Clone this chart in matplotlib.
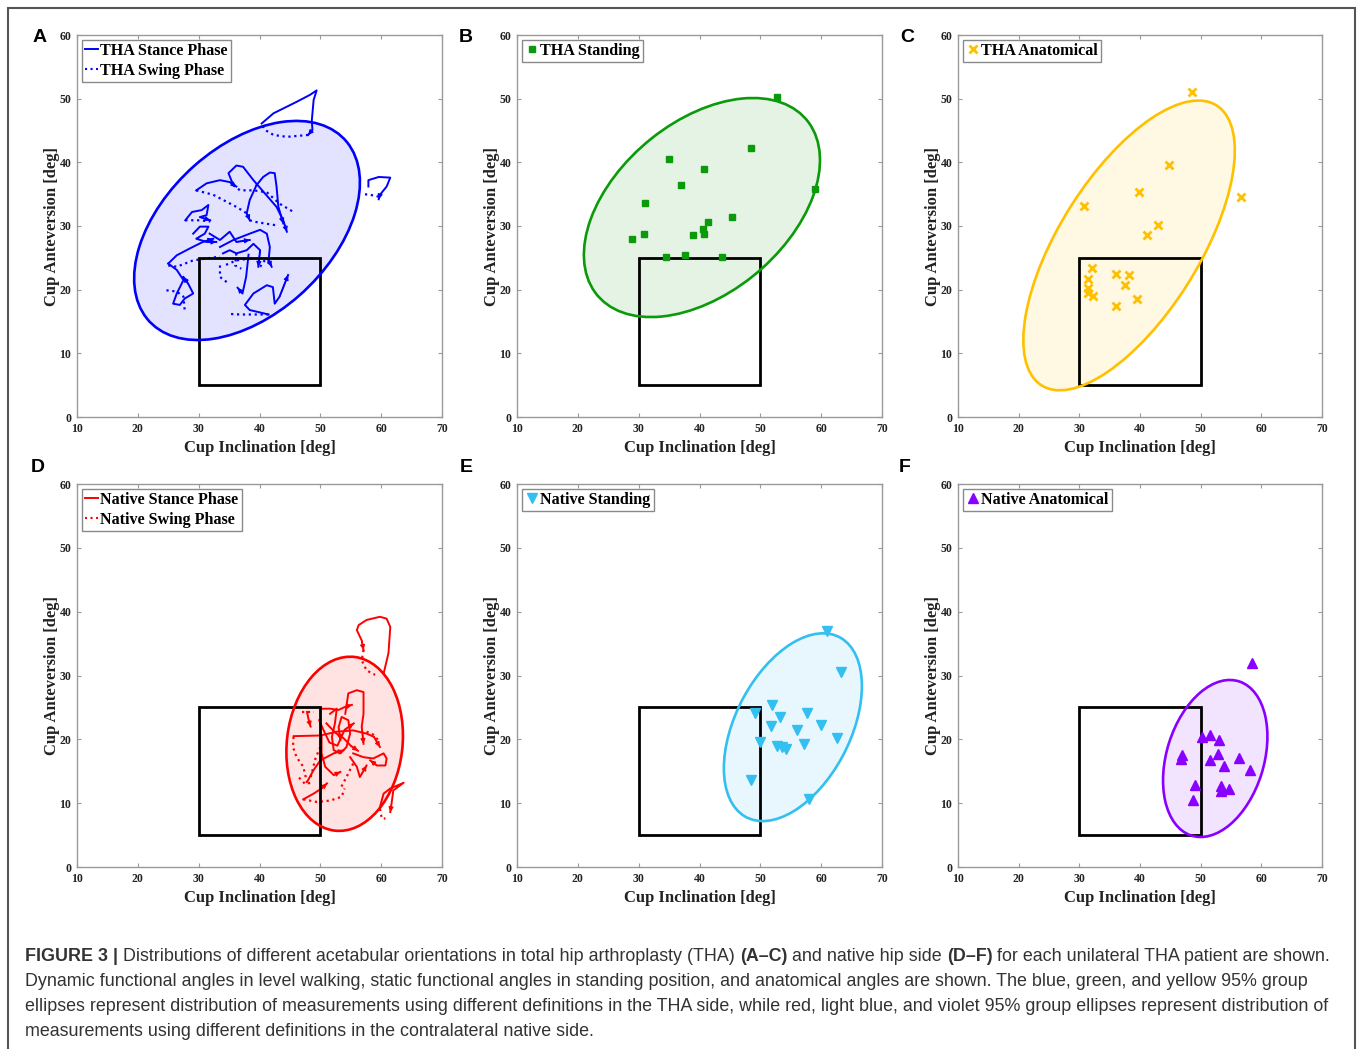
import numpy as np
import matplotlib.pyplot as plt
from matplotlib.patches import Ellipse, Rectangle
from matplotlib.lines import Line2D

# --- Données --------------------------------------------------------
x_ticks = [10, 20, 30, 40, 50, 60, 70]
y_ticks = [0, 10, 20, 30, 40, 50, 60]
safe_incl = [30, 50]   # zone de Lewinnek, inclinaison
safe_ante = [5, 25]    # zone de Lewinnek, antéversion

# ellipses 95% : centre x, centre y, largeur, hauteur, angle
ell_A = [37.95, 29.3, 43.0, 26.7, 40.1]
ell_B = [40.4, 32.9, 44.1, 27.3, 37.2]
ell_C = [38.2, 26.95, 52.6, 22.8, 56.2]
ell_D = [54.0, 19.3, 27.4, 19.0, 82.7]
ell_E = [55.35, 21.9, 32.1, 18.7, 60.5]
ell_F = [52.4, 17.0, 25.4, 16.0, 71.3]

# A : THA, marche (phase d'appui = trait plein, phase oscillante = pointillé)
tha_stance = [
    [(40.35, 46.1), (42.3, 47.7), (46.1, 49.5), (48.3, 50.6), (49.4, 51.3), (48.9, 49.8), (48.6, 46.6), (48.7, 45.1), (48.0, 44.3)],
    [(57.9, 36.2), (57.9, 37.2), (59.6, 37.7), (61.5, 37.6), (60.9, 36.2), (59.8, 34.9), (59.6, 34.2)],
    [(35.7, 36.4), (34.9, 38.3), (36.2, 39.5), (37.3, 39.3), (39.0, 37.2), (40.9, 35.1), (42.8, 33.0), (43.9, 30.9), (44.5, 29.1)],
    [(39.5, 36.4), (40.6, 37.7), (41.7, 38.4), (42.5, 38.3), (42.8, 36.2), (43.1, 33.0), (43.9, 30.4)],
    [(39.5, 36.4), (38.4, 34.1), (37.9, 32.0), (38.4, 30.9)],
    [(29.6, 35.6), (31.3, 36.7), (33.5, 37.2), (35.1, 36.9), (36.2, 36.2)],
    [(27.8, 30.9), (28.9, 32.2), (30.5, 32.5), (31.6, 33.3), (31.3, 31.7), (30.2, 31.4), (31.9, 30.9)],
    [(29.1, 28.8), (30.2, 29.9), (31.6, 29.9), (31.0, 28.8), (29.6, 28.0), (31.3, 27.5), (32.9, 27.5)],
    [(25.0, 24.1), (26.4, 25.4), (28.6, 26.5), (30.7, 27.5), (32.4, 28.0)],
    [(25.0, 24.1), (26.4, 23.1), (27.5, 21.5), (26.4, 19.4), (25.8, 17.8), (26.9, 17.6), (27.7, 18.6), (29.1, 19.4), (28.3, 20.9), (27.5, 22.0)],
    [(41.5, 16.1), (38.4, 16.8), (37.6, 17.6), (39.0, 19.4), (41.2, 20.7), (42.2, 20.4), (42.5, 17.8), (43.3, 18.9), (44.7, 22.3)],
    [(33.5, 26.7), (35.7, 27.8), (38.4, 28.8), (40.1, 29.4), (41.2, 28.8), (41.7, 26.7), (41.5, 24.6), (42.0, 23.6)],
    [(34.0, 25.7), (35.1, 26.2), (36.2, 25.7), (37.9, 26.2), (39.0, 27.2), (40.1, 26.2), (39.8, 23.6)],
    [(31.8, 28.8), (33.5, 27.8), (35.1, 29.1), (36.2, 27.5), (38.4, 27.8)],
    [(38.2, 25.5), (37.8, 22.0), (37.2, 19.4), (36.4, 20.3)],
]
tha_swing = [
    [(48.0, 44.3), (44.5, 44.0), (42.3, 44.3), (40.9, 45.1), (40.35, 46.0)],
    [(59.6, 34.6), (58.2, 34.9), (57.1, 35.0)],
    [(35.7, 36.4), (36.8, 35.6), (39.0, 35.6), (41.2, 35.3), (43.3, 33.5), (45.6, 32.2)],
    [(38.4, 30.9), (39.0, 30.7), (41.5, 30.3), (42.8, 30.1)],
    [(29.6, 35.6), (32.4, 34.9), (34.0, 34.1), (36.2, 33.0), (37.9, 32.0)],
    [(27.8, 30.9), (30.2, 30.9), (31.9, 30.7)],
    [(25.0, 23.8), (26.4, 23.6), (29.1, 24.6), (31.3, 24.9), (33.5, 25.2)],
    [(24.7, 19.9), (26.4, 19.7), (27.5, 18.9), (27.7, 16.8)],
    [(41.5, 16.1), (39.0, 16.1), (36.8, 16.1), (34.9, 16.2)],
    [(33.5, 23.8), (33.5, 22.0), (34.6, 21.2)],
    [(40.1, 23.6), (41.0, 24.8), (42.0, 24.2)],
    [(36.2, 25.7), (36.0, 23.8), (37.0, 23.3)],
    [(34.5, 23.9), (36.2, 24.6), (38.5, 24.9)],
]

# D : côté natif, marche
nat_stance = [
    [(60.4, 30.3), (61.2, 33.5), (61.5, 37.6), (60.9, 38.9), (59.8, 39.2), (57.6, 38.7), (56.3, 37.9), (56.0, 37.1), (56.8, 35.5), (57.1, 34.0)],
    [(59.8, 9.4), (60.4, 11.5), (61.5, 12.3), (63.7, 13.2), (62.0, 12.0), (61.7, 9.9), (61.5, 8.6)],
    [(45.6, 20.5), (50.0, 20.6), (52.7, 21.2), (55.4, 21.4), (57.6, 20.9), (58.8, 20.4), (59.8, 18.8)],
    [(47.8, 24.3), (48.1, 23.0), (48.4, 22.0)],
    [(47.8, 13.3), (48.9, 15.2), (50.0, 16.7), (52.2, 17.8), (53.8, 18.3)],
    [(47.2, 10.6), (48.9, 11.5), (50.2, 12.3), (51.1, 13.1)],
    [(54.1, 24.0), (54.6, 27.2), (56.0, 27.7), (57.1, 27.4), (57.1, 24.0), (56.8, 22.0), (57.1, 19.3)],
    [(51.6, 24.0), (52.7, 24.8), (52.4, 22.5), (51.9, 20.4), (52.2, 18.3), (53.3, 17.8), (54.3, 18.8), (54.9, 20.9), (54.6, 23.0), (53.5, 23.5), (53.0, 21.9), (53.3, 19.9)],
    [(50.0, 24.8), (51.6, 24.8), (53.0, 24.6), (54.1, 25.1), (55.2, 25.4)],
    [(50.2, 20.4), (50.2, 17.8), (50.8, 15.7), (52.2, 14.4), (53.3, 14.9)],
    [(55.4, 17.8), (57.1, 17.2), (58.7, 17.0), (60.4, 17.8), (60.9, 17.0), (60.7, 15.9), (59.3, 15.9), (58.2, 16.7)],
    [(54.9, 17.2), (56.0, 15.7), (56.5, 14.1), (57.6, 15.9)],
    [(51.0, 22.5), (52.5, 21.0), (53.8, 20.2), (55.0, 19.0), (56.2, 18.2)],
    [(49.8, 23.0), (50.5, 21.5), (51.5, 19.5), (52.8, 19.0), (54.0, 21.5), (55.5, 22.5)],
]
nat_swing = [
    [(57.1, 34.0), (56.8, 32.4), (57.6, 30.8), (59.0, 30.1)],
    [(59.8, 9.1), (60.1, 7.6), (60.7, 7.6)],
    [(45.6, 20.4), (45.5, 18.8), (46.1, 17.2), (47.2, 15.7), (47.8, 13.3)],
    [(47.0, 24.3), (49.0, 24.3)],
    [(47.2, 10.6), (49.4, 10.2), (51.6, 10.4), (53.5, 11.0), (54.0, 12.3)],
    [(57.6, 21.2), (58.6, 20.8), (59.5, 19.9)],
    [(55.4, 16.2), (54.3, 14.1), (53.3, 12.3)],
    [(50.0, 18.8), (49.2, 17.0), (48.3, 13.6)],
    [(46.5, 14.0), (47.5, 13.0), (48.5, 13.2)],
]

# B : THA debout
tha_stand_x = [28.9, 30.9, 31.0, 35.0, 37.0, 40.8, 48.4, 52.7, 59.0, 45.3, 41.4, 40.6, 40.7, 39.0, 34.5, 37.6, 43.75]
tha_stand_y = [27.9, 28.7, 33.6, 40.5, 36.5, 39.0, 42.2, 50.3, 35.8, 31.4, 30.6, 29.6, 28.8, 28.6, 25.1, 25.4, 25.1]
# C : THA anatomique
tha_anat_x = [48.5, 44.8, 39.8, 30.7, 42.9, 41.2, 56.7, 32.05, 31.5, 31.4, 31.5, 32.2, 36.1, 38.2, 37.5, 39.5, 36.1]
tha_anat_y = [51.1, 39.6, 35.4, 33.2, 30.2, 28.6, 34.6, 23.4, 21.6, 20.3, 19.4, 19.0, 22.5, 22.3, 20.8, 18.6, 17.5]
# E : natif debout
nat_stand_x = [61.0, 63.2, 51.9, 49.1, 57.6, 53.3, 51.75, 59.9, 56.0, 62.6, 49.9, 57.2, 52.8, 53.6, 54.3, 48.4, 58.0]
nat_stand_y = [37.0, 30.5, 25.4, 24.2, 24.2, 23.5, 22.1, 22.3, 21.4, 20.2, 19.6, 19.3, 18.9, 18.8, 18.5, 13.6, 10.6]
# F : natif anatomique
nat_anat_x = [58.4, 51.6, 50.15, 53.1, 46.9, 46.7, 52.9, 51.6, 56.3, 53.8, 58.1, 49.0, 53.3, 54.7, 53.3, 48.8]
nat_anat_y = [32.0, 20.75, 20.3, 19.9, 17.5, 16.9, 17.7, 16.7, 17.1, 15.8, 15.2, 12.9, 12.65, 12.2, 11.9, 10.45]

caption_l1 = [("FIGURE 3 |", True),
              ("Distributions of different acetabular orientations in total hip arthroplasty (THA)", False),
              ("(A–C)", True), ("and native hip side", False), ("(D–F)", True),
              ("for each unilateral THA patient are shown.", False)]
caption_rest = [
    "Dynamic functional angles in level walking, static functional angles in standing position, and anatomical angles are shown. The blue, green, and yellow 95% group",
    "ellipses represent distribution of measurements using different definitions in the THA side, while red, light blue, and violet 95% group ellipses represent distribution of",
    "measurements using different definitions in the contralateral native side.",
]

# --- Mise en page ----------------------------------------------------
W, H = 1358, 1049
SERIF = ['Liberation Serif', 'DejaVu Serif']
fig = plt.figure(figsize=(W / 100, H / 100), dpi=100)


def axes_px(left, top, right, bottom):
    return fig.add_axes([left / W, 1 - bottom / H, (right - left) / W, (bottom - top) / H])


def setup(ax):
    ax.set_xlim(10, 70)
    ax.set_ylim(0, 60)
    ax.set_xticks(x_ticks)
    ax.set_yticks(y_ticks)
    for s in ax.spines.values():
        s.set_color('#9a9a9a')
        s.set_linewidth(1.0)
    ax.tick_params(direction='in', length=3, width=0.8, color='#9a9a9a', top=True, right=True,
                   labelsize=8.5, pad=4, labelcolor='#222222')
    for lab in ax.get_xticklabels() + ax.get_yticklabels():
        lab.set_family(SERIF)
        lab.set_fontweight('bold')
    ax.set_xlabel("Cup Inclination [deg]", family=SERIF, fontweight='bold', fontsize=12, labelpad=4, color='#222222')
    ax.set_ylabel("Cup Anteversion [deg]", family=SERIF, fontweight='bold', fontsize=12, labelpad=0, color='#222222')
    ax.add_patch(Rectangle((safe_incl[0], safe_ante[0]), safe_incl[1] - safe_incl[0], safe_ante[1] - safe_ante[0],
                           fill=False, edgecolor='black', lw=2, zorder=4))


def ellipse(ax, e, color):
    ax.add_patch(Ellipse((e[0], e[1]), e[2], e[3], angle=e[4], facecolor=color, alpha=0.11, edgecolor='none', zorder=1))
    ax.add_patch(Ellipse((e[0], e[1]), e[2], e[3], angle=e[4], fill=False, edgecolor=color, lw=1.9, zorder=5))


def trajets(ax, stance, swing, color):
    for seg in stance:
        xs, ys = zip(*seg)
        ax.plot(xs, ys, '-', color=color, lw=1.4, zorder=3)
        ax.annotate('', xy=seg[-1], xytext=seg[-2],
                    arrowprops=dict(arrowstyle='-|>', color=color, lw=0.9, mutation_scale=7, shrinkA=0, shrinkB=0),
                    zorder=3)
    for seg in swing:
        xs, ys = zip(*seg)
        ax.plot(xs, ys, ':', color=color, lw=1.6, zorder=3)


def legende(ax, handles, labels):
    leg = ax.legend(handles, labels, loc='upper left', prop=dict(family=SERIF, weight='bold', size=11.6),
                    handlelength=0.8, handletextpad=0.15, borderpad=0.2, labelspacing=0.22,
                    borderaxespad=0.3, fancybox=False, framealpha=1, edgecolor='#8a8a8a')
    leg.get_frame().set_linewidth(1.0)


blue, green, gold = '#0000FF', '#0A9A0A', '#FFC000'
red, lblue, violet = '#FF0000', '#33BFF0', '#8A00FF'

axA = axes_px(77, 35, 442, 417)
axB = axes_px(517, 35, 882, 417)
axC = axes_px(958, 35, 1322, 417)
axD = axes_px(77, 484, 442, 867)
axE = axes_px(517, 484, 882, 867)
axF = axes_px(958, 484, 1322, 867)

for ax in (axA, axB, axC, axD, axE, axF):
    setup(ax)

ellipse(axA, ell_A, blue)
trajets(axA, tha_stance, tha_swing, blue)
legende(axA, [Line2D([], [], color=blue, lw=1.4), Line2D([], [], color=blue, ls=':', lw=1.5)],
        ["THA Stance Phase", "THA Swing Phase"])

ellipse(axB, ell_B, green)
axB.plot(tha_stand_x, tha_stand_y, 's', color=green, ms=5, ls='none', zorder=6, label="THA Standing")
legende(axB, *axB.get_legend_handles_labels())

ellipse(axC, ell_C, gold)
axC.plot(tha_anat_x, tha_anat_y, 'x', color=gold, ms=6, mew=2, ls='none', zorder=6, label="THA Anatomical")
legende(axC, *axC.get_legend_handles_labels())

ellipse(axD, ell_D, red)
trajets(axD, nat_stance, nat_swing, red)
legende(axD, [Line2D([], [], color=red, lw=1.4), Line2D([], [], color=red, ls=':', lw=1.5)],
        ["Native Stance Phase", "Native Swing Phase"])

ellipse(axE, ell_E, lblue)
axE.plot(nat_stand_x, nat_stand_y, 'v', color=lblue, ms=6.5, ls='none', zorder=6, label="Native Standing")
legende(axE, *axE.get_legend_handles_labels())

ellipse(axF, ell_F, violet)
axF.plot(nat_anat_x, nat_anat_y, '^', color=violet, ms=6.5, ls='none', zorder=6, label="Native Anatomical")
legende(axF, *axF.get_legend_handles_labels())

# lettres des panneaux
for lettre, px, py in [("A", 40, 38), ("B", 466, 38), ("C", 907, 38), ("D", 38, 467), ("E", 466, 467), ("F", 905, 467)]:
    fig.text(px / W, 1 - py / H, lettre, ha='center', va='center', fontsize=14, fontweight='bold',
             family=['Liberation Sans'])

# cadre extérieur
fig.add_artist(Rectangle((8 / W, -0.02), (1355 - 8) / W, 1.02 - 8 / H, transform=fig.transFigure,
                         fill=False, edgecolor='#555555', lw=1.5))

# légende de la figure
cap_fs = 12.9
cap_kw = dict(fontsize=cap_fs, family=['Liberation Sans'], color='#333333', va='baseline', ha='left')
renderer = fig.canvas.get_renderer()
t1 = fig.text(0, 0, "x x", **cap_kw)
t2 = fig.text(0, 0, "xx", **cap_kw)
espace = t1.get_window_extent(renderer).width - t2.get_window_extent(renderer).width
t1.remove()
t2.remove()

x0 = 25
base = [961, 986, 1011, 1036]
x = x0
for txt, gras in caption_l1:
    t = fig.text(x / W, 1 - base[0] / H, txt, fontweight='bold' if gras else 'normal', **cap_kw)
    x += t.get_window_extent(renderer).width + espace
for ligne, yb in zip(caption_rest, base[1:]):
    fig.text(x0 / W, 1 - yb / H, ligne, **cap_kw)

fig.savefig("out.png", dpi=100)
